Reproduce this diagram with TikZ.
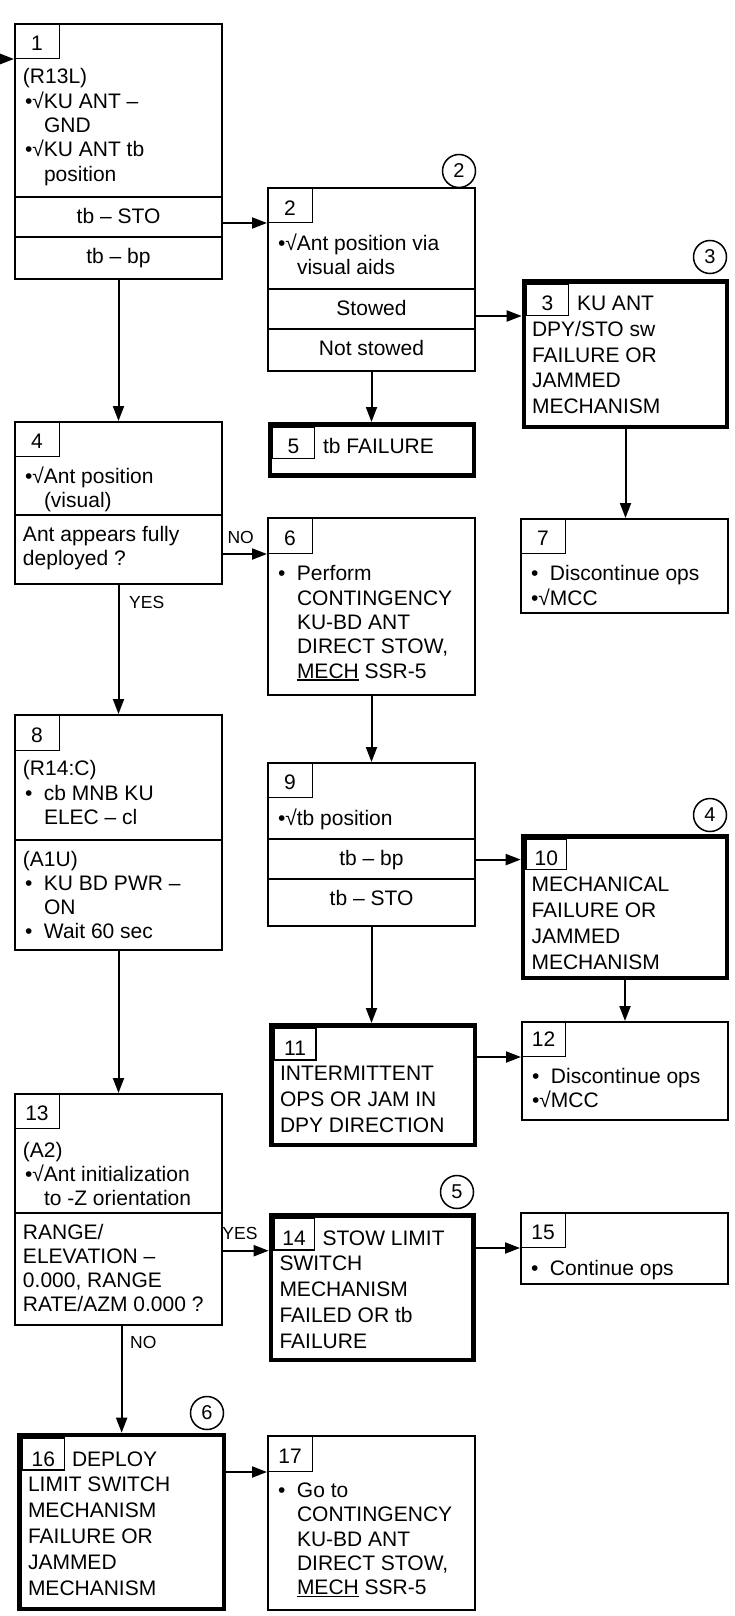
\documentclass[tikz,border=0pt]{standalone}
\usepackage{fontspec}
\setmainfont{Liberation Sans}
\usetikzlibrary{arrows.meta}
\newcommand{\nfont}{\fontsize{21}{24.3}\selectfont}
\newcommand{\rfont}{\fontsize{21}{25.8}\selectfont}
\newcommand{\lfont}{\fontsize{17.5}{20}\selectfont}
\newcommand{\cfont}{\fontsize{20}{24}\selectfont}
\newcommand{\fstrut}{\rule{0pt}{22pt}}
\newcommand{\indt}{\hspace*{21pt}}
\newcommand{\bult}{\makebox[21pt][l]{\hspace{2pt}•}}
\newcommand{\bsq}{\hspace*{2pt}•√}
\newcommand{\ulmech}[1]{\setbox0\hbox{#1}\rlap{\rule[-2.7pt]{\wd0}{1.5pt}}\box0\relax}
\tikzset{
  box/.style={draw, line width=2pt, outer sep=1pt, inner sep=0pt, anchor=north west},
  tbox/.style={draw, line width=4.5pt, outer sep=2.25pt, inner sep=0pt, anchor=north west},
  numbox/.style={draw, line width=1.3pt, outer sep=0.65pt, inner sep=0pt, anchor=north west},
  txt/.style={anchor=north west, inner sep=0pt, outer sep=0pt, align=left, font=\nfont},
  rtxt/.style={anchor=north west, inner sep=0pt, outer sep=0pt, align=left, font=\rfont},
  btxt/.style={anchor=base west, inner sep=0pt, outer sep=0pt, font=\nfont},
  num/.style={anchor=base, inner sep=0pt, outer sep=0pt, font=\nfont},
  rowt/.style={anchor=base, inner sep=0pt, outer sep=0pt, font=\nfont},
  lbl/.style={anchor=base, inner sep=0pt, outer sep=0pt, font=\lfont},
  circ/.style={draw, circle, line width=1.5pt, minimum size=33pt, inner sep=0pt, font=\cfont},
  divl/.style={line width=2pt},
  arr/.style={line width=2pt, -{Triangle[length=15pt,width=11pt]}},
}
\begin{document}
\begin{tikzpicture}[x=1pt,y=-1pt]
\useasboundingbox (0,0) rectangle (735,1616);
\fill[white] (0,0) rectangle (735,1616);
% Box 1
\node[box, minimum width=207pt, minimum height=255pt] (b1) at (14,23) {};
\node[numbox, minimum width=44.7pt, minimum height=34.7pt] (n1) at (14,23) {};
\node[num] (n1t) at (37,51) {1};
\node[txt] (t1) at (23,62) {\fstrut(R13L)\\\bsq KU ANT –\\\indt GND\\\bsq KU ANT tb\\\indt position};
\draw[divl] (b1.west |- 0,197) -- (b1.east |- 0,197);
\draw[divl] (b1.west |- 0,237) -- (b1.east |- 0,237);
\node[rowt] (r1a) at (118.5,223) {tb – STO};
\node[rowt] (r1b) at (118.5,263) {tb – bp};
% Box 2
\node[box, minimum width=207pt, minimum height=183pt] (b2) at (267,187) {};
\node[numbox, minimum width=44.7pt, minimum height=34.7pt] (n2) at (267,187) {};
\node[num] (n2t) at (290,215) {2};
\node[txt] (t2) at (276,228.5) {\fstrut\bsq Ant position via\\\indt visual aids};
\draw[divl] (b2.west |- 0,289) -- (b2.east |- 0,289);
\draw[divl] (b2.west |- 0,329) -- (b2.east |- 0,329);
\node[rowt] (r2a) at (371.5,315) {Stowed};
\node[rowt] (r2b) at (371.5,355) {Not stowed};
\node[circ] (c2) at (459,171) {2};
% Box 3
\node[tbox, minimum width=203.1pt, minimum height=145.8pt] (b3) at (521.7,279) {};
\node[numbox, minimum width=41.7pt, minimum height=31.2pt] (n3) at (526,283.5) {};
\node[num] (n3t) at (547.5,310.5) {3};
\node[btxt] (t3a) at (577,310.5) {KU ANT};
\node[rtxt] (t3b) at (532,314.3) {\fstrut DPY/STO sw\\FAILURE OR\\JAMMED\\MECHANISM};
\node[circ] (c3) at (710,257) {3};
% Box 5
\node[tbox, minimum width=204pt, minimum height=51pt] (b5) at (267.5,422) {};
\node[numbox, minimum width=41.7pt, minimum height=31.2pt] (n5) at (272,426.5) {};
\node[num] (n5t) at (293.5,453.5) {5};
\node[btxt] (t5) at (323,453.5) {tb FAILURE};
% Box 4
\node[box, minimum width=207pt, minimum height=162pt] (b4) at (14,421) {};
\node[numbox, minimum width=44.7pt, minimum height=34.7pt] (n4) at (14,421) {};
\node[num] (n4t) at (37,448) {4};
\node[txt] (t4a) at (23,461.5) {\fstrut\bsq Ant position\\\indt(visual)};
\draw[divl] (b4.west |- 0,515) -- (b4.east |- 0,515);
\node[txt] (t4b) at (23,519.5) {\fstrut Ant appears fully\\deployed ?};
% Box 6
\node[box, minimum width=207pt, minimum height=177pt] (b6) at (267,517) {};
\node[numbox, minimum width=44.7pt, minimum height=35.7pt] (n6) at (267,517) {};
\node[num] (n6t) at (290,545) {6};
\node[txt] (t6) at (276,558.8) {\fstrut\bult Perform\\\indt CONTINGENCY\\\indt KU-BD ANT\\\indt DIRECT STOW,\\\indt\ulmech{MECH} SSR-5};
% Box 7
\node[box, minimum width=207pt, minimum height=94pt] (b7) at (520,518) {};
\node[numbox, minimum width=44.7pt, minimum height=34.7pt] (n7) at (520,518) {};
\node[num] (n7t) at (543,545) {7};
\node[txt] (t7) at (529,558.8) {\fstrut\bult Discontinue ops\\\bsq MCC};
% Box 8
\node[box, minimum width=207pt, minimum height=235pt] (b8) at (14,714) {};
\node[numbox, minimum width=44.7pt, minimum height=35.7pt] (n8) at (14,714) {};
\node[num] (n8t) at (37,742) {8};
\node[txt] (t8a) at (23,753.8) {\fstrut(R14:C)\\\bult cb MNB KU\\\indt ELEC – cl};
\draw[divl] (b8.west |- 0,840) -- (b8.east |- 0,840);
\node[txt] (t8b) at (23,844) {\fstrut(A1U)\\\bult KU BD PWR –\\\indt ON\\\bult Wait 60 sec};
% Box 9
\node[box, minimum width=207pt, minimum height=163pt] (b9) at (267,762) {};
\node[numbox, minimum width=44.7pt, minimum height=34.7pt] (n9) at (267,762) {};
\node[num] (n9t) at (290,789) {9};
\node[txt] (t9) at (276,803) {\fstrut\bsq tb position};
\draw[divl] (b9.west |- 0,839) -- (b9.east |- 0,839);
\draw[divl] (b9.west |- 0,879) -- (b9.east |- 0,879);
\node[rowt] (r9a) at (371.5,865) {tb – bp};
\node[rowt] (r9b) at (371.5,905) {tb – STO};
% Box 10
\node[tbox, minimum width=204.1pt, minimum height=141.5pt] (b10) at (520.7,834) {};
\node[numbox, minimum width=40.8pt, minimum height=30.2pt] (n10) at (525.2,838.5) {};
\node[num] (n10t) at (546.3,865) {10};
\node[rtxt] (t10) at (531.5,869.7) {\fstrut MECHANICAL\\FAILURE OR\\JAMMED\\MECHANISM};
\node[circ] (c4) at (710,815) {4};
% Box 11
\node[tbox, minimum width=203.5pt, minimum height=119.8pt] (b11) at (269,1023) {};
\node[numbox, minimum width=41.9pt, minimum height=31.9pt] (n11) at (273.5,1027.5) {};
\node[num] (n11t) at (295.1,1055) {11};
\node[rtxt] (t11) at (280,1058.7) {\fstrut INTERMITTENT\\OPS OR JAM IN\\DPY DIRECTION};
% Box 12
\node[box, minimum width=206pt, minimum height=98pt] (b12) at (521,1021) {};
\node[numbox, minimum width=43.7pt, minimum height=34.7pt] (n12) at (521,1021) {};
\node[num] (n12t) at (543.5,1046) {12};
\node[txt] (t12) at (530,1061.5) {\fstrut\bult Discontinue ops\\\bsq MCC};
% Box 13
\node[box, minimum width=207pt, minimum height=231pt] (b13) at (14,1093) {};
\node[numbox, minimum width=44.7pt, minimum height=34.7pt] (n13) at (14,1093) {};
\node[num] (n13t) at (37,1120.5) {13};
\node[txt] (t13a) at (23,1135) {\fstrut(A2)\\\bsq Ant initialization\\\indt to -Z orientation};
\draw[divl] (b13.west |- 0,1213) -- (b13.east |- 0,1213);
\node[txt] (t13b) at (23,1217) {\fstrut RANGE/\\ELEVATION –\\0.000, RANGE\\RATE/AZM 0.000 ?};
% Box 14
\node[tbox, minimum width=202.5pt, minimum height=144.5pt] (b14) at (268.7,1213) {};
\node[numbox, minimum width=40.5pt, minimum height=31.9pt] (n14) at (273.2,1217.5) {};
\node[num] (n14t) at (294.1,1245) {14};
\node[btxt] (t14a) at (322.5,1245) {STOW LIMIT};
\node[rtxt] (t14b) at (279.5,1248.8) {\fstrut SWITCH\\MECHANISM\\FAILED OR tb\\FAILURE};
\node[circ] (c5) at (457,1192) {5};
% Box 15
\node[box, minimum width=207pt, minimum height=71pt] (b15) at (520,1212) {};
\node[numbox, minimum width=44.7pt, minimum height=34.7pt] (n15) at (520,1212) {};
\node[num] (n15t) at (543,1239.5) {15};
\node[txt] (t15) at (529,1253) {\fstrut\bult Continue ops};
% Box 16
\node[tbox, minimum width=204.2pt, minimum height=173.8pt] (b16) at (17.3,1432.7) {};
\node[numbox, minimum width=41.9pt, minimum height=32.2pt] (n16) at (21.8,1437.2) {};
\node[num] (n16t) at (43.4,1466) {16};
\node[btxt] (t16a) at (72,1466) {DEPLOY};
\node[rtxt] (t16b) at (28,1469.8) {\fstrut LIMIT SWITCH\\MECHANISM\\FAILURE OR\\JAMMED\\MECHANISM};
\node[circ] (c6) at (207,1413) {6};
% Box 17
\node[box, minimum width=207pt, minimum height=174pt] (b17) at (267,1435) {};
\node[numbox, minimum width=44.7pt, minimum height=35.7pt] (n17) at (267,1435) {};
\node[num] (n17t) at (290,1463) {17};
\node[txt] (t17) at (276,1475.5) {\fstrut\bult Go to\\\indt CONTINGENCY\\\indt KU-BD ANT\\\indt DIRECT STOW,\\\indt\ulmech{MECH} SSR-5};
% Labels
\node[lbl] (l1) at (240.7,543) {NO};
\node[lbl] (l2) at (146.7,608) {YES};
\node[lbl] (l3) at (240,1239.6) {YES};
\node[lbl] (l4) at (143.3,1348) {NO};
% Connectors
\coordinate (in) at (0,59);
\draw[arr] (in) -- (b1.west |- in);
\draw[arr] (b1.east |- n2.south) -- (b2.west |- n2.south);
\draw[arr] (b1.south) -- (b4.north);
\draw[arr] (b2.east |- n3.south) -- (b3.west |- n3.south);
\draw[arr] (b2.south) -- (b2.south |- b5.north);
\draw[arr] (b3.south) -- (b3.south |- b7.north);
\draw[arr] (b4.east |- n6.south) -- (b6.west |- n6.south);
\draw[arr] (b4.south) -- (b8.north);
\draw[arr] (b6.south) -- (b9.north);
\draw[arr] (b8.south) -- (b13.north);
\draw[arr] (b9.east |- r9a) -- (b10.west |- r9a);
\draw[arr] (b9.south) -- (b9.south |- b11.north);
\draw[arr] (b10.south) -- (b10.south |- b12.north);
\draw[arr] (b11.east |- n12.south) -- (b12.west |- n12.south);
\draw[arr] (b13.east |- n14.south) -- (b14.west |- n14.south);
\draw[arr] (b13.south -| b16.north) -- (b16.north);
\draw[arr] (b14.east |- n15.south) -- (b15.west |- n15.south);
\draw[arr] (b16.east |- n17.south) -- (b17.west |- n17.south);
\end{tikzpicture}
\end{document}
